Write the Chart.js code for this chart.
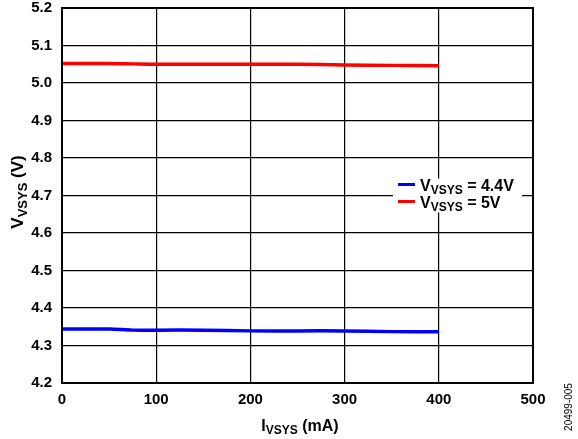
<!DOCTYPE html>
<html>
<head>
<meta charset="utf-8">
<script src="https://cdn.jsdelivr.net/npm/chart.js@4/dist/chart.umd.min.js"></script>
<style>
  html, body { margin: 0; padding: 0; background: #fff; }
  #wrap { width: 578px; height: 439px; position: relative; }
</style>
</head>
<body>
<div id="wrap"><canvas id="c" width="578" height="439"></canvas></div>
<script>
// Data
const xCurrent = [0, 50, 75, 100, 150, 200, 250, 300, 350, 400];      // I_VSYS (mA)
const v44 = [4.344, 4.344, 4.341, 4.341, 4.341, 4.339, 4.339, 4.339, 4.337, 4.337]; // V_VSYS = 4.4V
const v5  = [5.052, 5.052, 5.051, 5.050, 5.050, 5.050, 5.050, 5.048, 5.047, 5.046]; // V_VSYS = 5V
const xTicks = [0, 100, 200, 300, 400, 500];
const yTicks = [4.2, 4.3, 4.4, 4.5, 4.6, 4.7, 4.8, 4.9, 5.0, 5.1, 5.2];
const seriesLabels = [['V', 'VSYS', ' = 4.4V'], ['V', 'VSYS', ' = 5V']];
const seriesColors = ['#0000ff', '#ff0000'];
const figureId = '20499-005';

const FONT = '"Liberation Sans", Arial, sans-serif';

function drawSub(ctx, parts, x, y, mainSize, subSize, subDrop) {
  ctx.font = 'bold ' + mainSize + 'px ' + FONT;
  ctx.fillText(parts[0], x, y);
  x += ctx.measureText(parts[0]).width;
  ctx.font = 'bold ' + subSize + 'px ' + FONT;
  ctx.fillText(parts[1], x, y + subDrop);
  x += ctx.measureText(parts[1]).width;
  ctx.font = 'bold ' + mainSize + 'px ' + FONT;
  ctx.fillText(parts[2], x, y);
  return x + ctx.measureText(parts[2]).width;
}
function widthSub(ctx, parts, mainSize, subSize) {
  ctx.font = 'bold ' + mainSize + 'px ' + FONT;
  let w = ctx.measureText(parts[0]).width + ctx.measureText(parts[2]).width;
  ctx.font = 'bold ' + subSize + 'px ' + FONT;
  return w + ctx.measureText(parts[1]).width;
}

const decor = {
  id: 'decor',
  afterDraw(chart) {
    const ctx = chart.ctx;
    const a = chart.chartArea;
    ctx.save();
    ctx.strokeStyle = '#000';
    ctx.lineWidth = 2;
    ctx.strokeRect(a.left, a.top, a.right - a.left, a.bottom - a.top);

    ctx.fillStyle = '#000';
    ctx.textBaseline = 'alphabetic';
    ctx.textAlign = 'left';

    // x title
    const xParts = ['I', 'VSYS', ' (mA)'];
    const xw = widthSub(ctx, xParts, 16, 12);
    drawSub(ctx, xParts, 300 - xw / 2, 431, 16, 12, 3);

    // y title rotated
    ctx.save();
    ctx.translate(23, 192);
    ctx.rotate(-Math.PI / 2);
    const yParts = ['V', 'VSYS', ' (V)'];
    const yw = widthSub(ctx, yParts, 17, 13);
    drawSub(ctx, yParts, -yw / 2, 0, 17, 13, 4);
    ctx.restore();

    // legend
    const ys = chart.scales.y;
    const ly = ys.getPixelForValue(4.7);
    ctx.fillStyle = '#fff';
    ctx.fillRect(393, ly - 17, 129, 34);
    const rows = [ly - 11, ly + 6];
    for (let i = 0; i < 2; i++) {
      ctx.strokeStyle = seriesColors[i];
      ctx.lineWidth = 3;
      ctx.beginPath();
      ctx.moveTo(398, rows[i]);
      ctx.lineTo(415, rows[i]);
      ctx.stroke();
      ctx.fillStyle = '#000';
      drawSub(ctx, seriesLabels[i], 420, rows[i] + 6, 16, 12, 3);
    }

    // figure id
    ctx.save();
    ctx.translate(572, 407);
    ctx.rotate(-Math.PI / 2);
    ctx.textAlign = 'center';
    ctx.font = '10px ' + FONT;
    ctx.fillStyle = '#000';
    ctx.fillText(figureId, 0, 0);
    ctx.restore();

    ctx.restore();
  }
};

new Chart(document.getElementById('c'), {
  type: 'line',
  data: {
    datasets: [
      { label: 'VVSYS = 4.4V', data: xCurrent.map((x, i) => ({ x, y: v44[i] })),
        borderColor: seriesColors[0], borderWidth: 3.5, pointRadius: 0, tension: 0.3, fill: false },
      { label: 'VVSYS = 5V', data: xCurrent.map((x, i) => ({ x, y: v5[i] })),
        borderColor: seriesColors[1], borderWidth: 3.5, pointRadius: 0, tension: 0.3, fill: false }
    ]
  },
  options: {
    responsive: false,
    animation: false,
    devicePixelRatio: 1,
    layout: { padding: { top: 8, right: 45, left: 0, bottom: 0 } },
    plugins: { legend: { display: false }, tooltip: { enabled: false } },
    scales: {
      x: {
        type: 'linear', min: 0, max: 500,
        afterBuildTicks(s) { s.ticks = xTicks.map(v => ({ value: v })); },
        afterFit(s) { s.height = 56; s.paddingLeft = 0; s.paddingRight = 0; },
        grid: { color: '#000', lineWidth: 1.2, drawTicks: false },
        border: { color: '#000', width: 2 },
        ticks: { padding: 8, color: '#000', font: { family: FONT, size: 15, weight: 'bold' }, maxRotation: 0,
                 callback: v => String(v) }
      },
      y: {
        type: 'linear', min: 4.2, max: 5.2,
        afterBuildTicks(s) { s.ticks = yTicks.map(v => ({ value: v })); },
        afterFit(s) { s.width = 62; s.paddingTop = 0; s.paddingBottom = 0; },
        grid: { color: '#000', lineWidth: 1.2, drawTicks: false },
        border: { color: '#000', width: 2 },
        ticks: { padding: 10, color: '#000', font: { family: FONT, size: 15, weight: 'bold' },
                 callback: v => Number(v).toFixed(1) }
      }
    }
  },
  plugins: [decor]
});
</script>
</body>
</html>
